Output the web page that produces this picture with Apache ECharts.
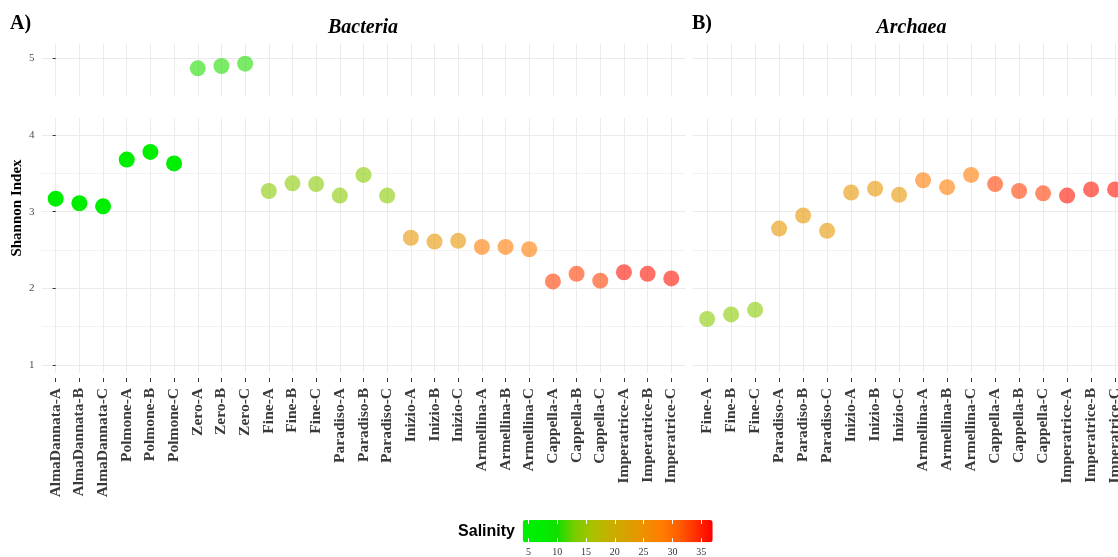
<!DOCTYPE html>
<html><head><meta charset="utf-8">
<script src="https://cdn.jsdelivr.net/npm/echarts@6/dist/echarts.min.js"></script>
<style>html,body{margin:0;padding:0;background:#fff}#c{width:1118px;height:557px}</style>
</head><body><div id="c"></div>
<script>
// ---------- DATA ----------
const bacteriaSites = ['AlmaDannata','Polmone','Zero','Fine','Paradiso','Inizio','Armellina','Cappella','Imperatrice'];
const archaeaSites = ['Fine','Paradiso','Inizio','Armellina','Cappella','Imperatrice'];
const replicates = ['A','B','C'];
const bacteriaShannon = [3.17,3.11,3.07, 3.68,3.78,3.63, 4.87,4.90,4.93, 3.27,3.37,3.36, 3.21,3.48,3.21, 2.66,2.61,2.62, 2.54,2.54,2.51, 2.09,2.19,2.10, 2.21,2.19,2.13];
const archaeaShannon = [1.60,1.66,1.72, 2.78,2.95,2.75, 3.25,3.30,3.22, 3.41,3.32,3.48, 3.36,3.27,3.24, 3.21,3.29,3.29];
const bacteriaSalinity = [5,5,10.5,14,14,24,28.5,33,36];
const archaeaSalinity = [14,24,24,28.5,33,36];
const yTicks = [1,2,3,4,5];
const yMinorTicks = [1.5,2.5,3.5];
const salinityTicks = [5,10,15,20,25,30,35];

// ---------- STYLE ----------
const salinityColors = ['#00ee00','#00ee00','#10e000','#78cc00','#a8c200','#c4b000','#d8a200','#ee9000','#ff7e00','#ff6000','#ff3000','#ff0000'];
const salinityRange = [4, 37];
const siteOpacity = {AlmaDannata: 1, Polmone: 1};
const defaultOpacity = 0.6;
const SERIF = 'Liberation Serif';
const upperRange = [4.5, 5.196], lowerRange = [0.896, 4.218];
// band = pixel width of one category; the Archaea panel runs past the right edge of the picture
const panels = [
  {sites: bacteriaSites, shannon: bacteriaShannon, salinity: bacteriaSalinity, left: 41.5, width: 644, band: 644 / 27.2, showY: true},
  {sites: archaeaSites, shannon: archaeaShannon, salinity: archaeaSalinity, left: 692.7, width: 1118 - 692.7, band: 24, showY: false}
];
const UP = {top: 43.3, height: 53.4}, LO = {top: 118.3, height: 254.7};

const grid = [], xAxis = [], yAxis = [], series = [];
const minorAxes = [];
panels.forEach((p, pi) => {
  const cats = p.sites.flatMap(s => replicates.map(r => s + '-' + r));
  const idx = cats.map((_, i) => i);
  const xMax = -0.6 + p.width / p.band;
  const gU = grid.length;
  grid.push({left: p.left, width: p.width, top: UP.top, height: UP.height, outerBoundsMode: 'none', containLabel: false});
  const gL = grid.length;
  grid.push({left: p.left, width: p.width, top: LO.top, height: LO.height, outerBoundsMode: 'none', containLabel: false});
  [gU, gL].forEach(g => {
    const isLower = g === gL;
    xAxis.push({
      type: 'value', gridIndex: g, min: -0.6, max: xMax, offset: 5,
      axisLine: {show: false},
      axisTick: {show: isLower, customValues: idx, length: 4, lineStyle: {color: '#333'}},
      axisLabel: {show: isLower, customValues: idx, rotate: 90, margin: 10, hideOverlap: false,
        formatter: v => cats[Math.round(v)], fontFamily: SERIF, fontWeight: 'bold', fontSize: 15.5, color: '#3a3a3a'},
      splitLine: {show: true, lineStyle: {color: '#ebebeb', width: 1}}
    });
    const range = isLower ? lowerRange : upperRange;
    const major = yTicks.filter(v => v >= range[0] && v <= range[1]);
    yAxis.push({
      type: 'value', gridIndex: g, min: range[0], max: range[1],
      axisLine: {show: false},
      axisTick: {show: p.showY, customValues: major, length: 3, lineStyle: {color: '#333'}},
      axisLabel: {show: p.showY, customValues: major, margin: 7, fontFamily: SERIF, fontSize: 11, color: '#4d4d4d'},
      splitLine: {show: true, lineStyle: {color: '#ebebeb', width: 1}}
    });
    if (isLower) minorAxes.push({g, range});
  });
  p.gU = gU; p.gL = gL; p.cats = cats;
});
minorAxes.forEach(m => {
  yAxis.push({
    type: 'value', gridIndex: m.g, min: m.range[0], max: m.range[1],
    axisLine: {show: false},
    axisTick: {show: false, customValues: yMinorTicks},
    axisLabel: {show: false},
    splitLine: {show: true, lineStyle: {color: '#f3f3f3', width: 1}}
  });
});

panels.forEach(p => {
  p.sites.forEach((s, k) => {
    const vals = p.shannon.slice(3 * k, 3 * k + 3);
    const g = vals.every(v => v > upperRange[0]) ? p.gU : p.gL;
    series.push({
      type: 'scatter', xAxisIndex: g, yAxisIndex: g, symbolSize: 16,
      data: vals.map((v, j) => [3 * k + j, v, p.salinity[k]]),
      itemStyle: {opacity: siteOpacity[s] !== undefined ? siteOpacity[s] : defaultOpacity},
      emphasis: {disabled: true}, silent: true
    });
  });
});

// colour bar axis
const gC = grid.length;
grid.push({left: 522.7, width: 190, top: 520, height: 22.3, outerBoundsMode: 'none', containLabel: false});
xAxis.push({type: 'value', gridIndex: gC, min: salinityRange[0], max: salinityRange[1], position: 'bottom', z: 10,
  axisLine: {show: false}, splitLine: {show: false},
  axisTick: {show: true, inside: true, customValues: salinityTicks, length: 4, lineStyle: {color: '#fff', width: 1}},
  axisLabel: {customValues: salinityTicks, margin: 5, fontFamily: SERIF, fontSize: 10, color: '#333'}});
xAxis.push({type: 'value', gridIndex: gC, min: salinityRange[0], max: salinityRange[1], position: 'top', z: 10,
  axisLine: {show: false}, splitLine: {show: false}, axisLabel: {show: false},
  axisTick: {show: true, inside: true, customValues: salinityTicks, length: 4, lineStyle: {color: '#fff', width: 1}}});
yAxis.push({type: 'value', gridIndex: gC, show: false, min: 0, max: 1});

const chart = echarts.init(document.getElementById('c'), null, {renderer: 'canvas'});
chart.setOption({
  animation: false,
  backgroundColor: '#fff',
  grid, xAxis, yAxis, series,
  visualMap: {
    type: 'continuous', min: salinityRange[0], max: salinityRange[1], dimension: 2,
    seriesIndex: series.map((_, i) => i),
    orient: 'horizontal', left: 522.7, top: 520, itemWidth: 22.3, itemHeight: 190,
    padding: 0, calculable: false, realtime: false, hoverLink: false,
    inRange: {color: salinityColors}, text: null, showLabel: false
  },
  graphic: [
    {type: 'text', x: 10, y: 24, style: {text: 'A)', font: 'bold 20px "Liberation Serif"', fill: '#000', align: 'left', verticalAlign: 'middle'}},
    {type: 'text', x: 692, y: 24, style: {text: 'B)', font: 'bold 20px "Liberation Serif"', fill: '#000', align: 'left', verticalAlign: 'middle'}},
    {type: 'text', x: 363, y: 28, style: {text: 'Bacteria', font: 'italic bold 20px "Liberation Serif"', fill: '#000', align: 'center', verticalAlign: 'middle'}},
    {type: 'text', x: 911.5, y: 28, style: {text: 'Archaea', font: 'italic bold 20px "Liberation Serif"', fill: '#000', align: 'center', verticalAlign: 'middle'}},
    {type: 'text', x: 17, y: 208, rotation: Math.PI / 2, style: {text: 'Shannon Index', font: 'bold 15px "Liberation Serif"', fill: '#000', align: 'center', verticalAlign: 'middle'}},
    {type: 'text', x: 515, y: 531.5, style: {text: 'Salinity', font: 'bold 16px "Liberation Sans"', fill: '#000', align: 'right', verticalAlign: 'middle'}}
  ]
});
</script></body></html>
